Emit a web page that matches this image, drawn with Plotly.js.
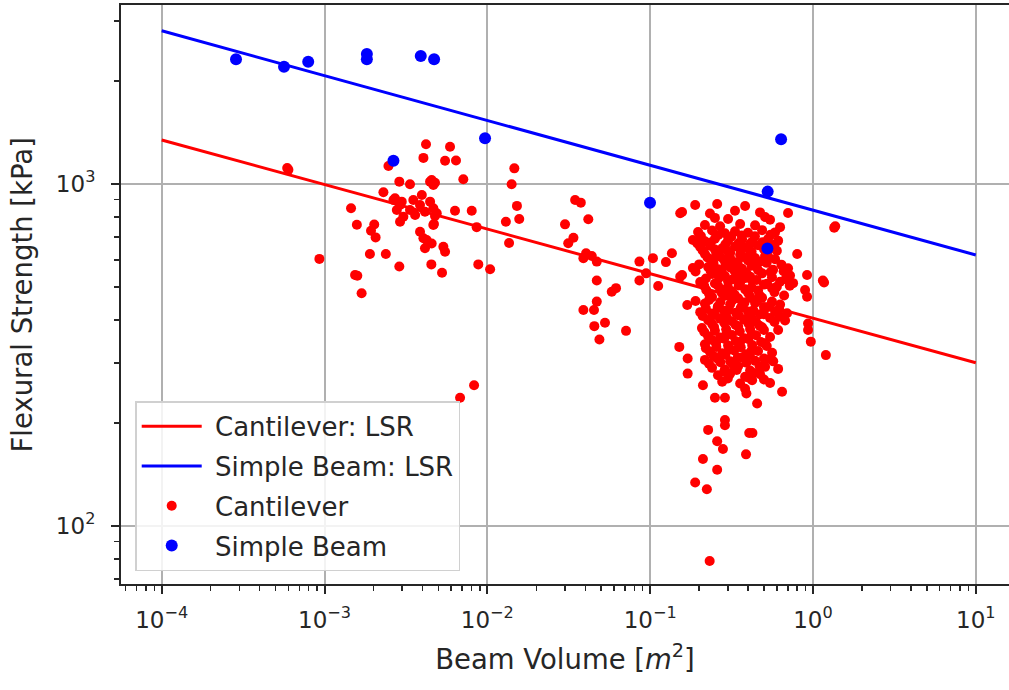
<!DOCTYPE html>
<html>
<head>
<meta charset="utf-8">
<script src="https://cdn.plot.ly/plotly-3.0.1.min.js"></script>
<style>
  html, body { margin: 0; padding: 0; background: #ffffff; }
  #chart { width: 1009px; height: 690px; }
</style>
</head>
<body>
<div id="chart"></div>
<script>
// ---- Cantilever tests: beam volume [m^2] and flexural strength [kPa] ----
// small-beam tests, left part of the range
const cantVolumeSmall = [
  5.9e-4, 6.0e-4, 2.47e-3, 4.20e-3, 5.90e-3, 4.05e-3, 5.50e-3, 6.42e-3, 7.12e-3, 1.465e-2,
  1.41e-2, 1.52e-2, 1.57e-2, 1.30e-2, 1.36e-2, 8.8e-3, 1.04e-2, 2.88e-3, 3.35e-3, 4.45e-3,
  4.77e-3, 4.66e-3, 4.55e-3, 2.30e-3, 1.455e-3, 1.58e-3, 2.02e-3, 1.93e-3, 2.06e-3, 1.90e-3,
  2.38e-3, 2.88e-3, 9.3e-4, 1.54e-3, 1.59e-3, 1.69e-3, 4.53e-3, 5.27e-3, 6.33e-3, 8.02e-3,
  8.6e-3, 6.80e-3, 8.29e-3
];
const cantStrengthSmall = [
  1114, 1100, 1129, 1307, 1285, 1192, 1170, 1172, 1032, 1111,
  998, 863, 790, 776, 672, 582, 563, 1016, 998, 1016,
  1009, 993, 1027, 946, 849, 760, 761, 730, 698, 624,
  624, 574, 604, 542, 539, 479, 582, 550, 835, 835,
  748, 237, 258
];
// grouped tests around 3e-3 .. 5e-3 m^2
const cantVolumeGroup = [
  2.71e-3, 2.91e-3, 2.78e-3, 3.51e-3, 3.96e-3, 3.86e-3, 4.45e-3, 4.66e-3, 4.14e-3, 3.05e-3,
  2.91e-3, 3.60e-3, 4.66e-3, 3.86e-3, 4.24e-3, 4.55e-3, 4.14e-3, 5.37e-3, 5.50e-3, 4.89e-3,
  3.35e-3, 2.98e-3, 4.05e-3, 4.77e-3, 4.70e-3, 2.65e-3
];
const cantStrengthGroup = [
  908, 868, 839, 898, 929, 868, 888, 849, 830, 802,
  776, 812, 759, 725, 686, 670, 649, 655, 634, 821,
  839, 888, 694, 806, 764, 898
];
// medium beams, 3e-2 .. 0.17 m^2
const cantVolumeMedium = [
  3.46e-2, 3.75e-2, 3.00e-2, 4.17e-2, 3.38e-2, 3.14e-2, 4.04e-2, 4.38e-2, 3.89e-2, 4.70e-2,
  4.70e-2, 5.81e-2, 6.17e-2, 4.70e-2, 4.52e-2, 3.89e-2, 4.54e-2, 5.28e-2, 4.88e-2, 7.11e-2,
  8.59e-2, 0.104, 9.44e-2, 8.59e-2, 0.112, 0.125, 0.136, 0.153, 0.153, 0.151,
  0.170, 0.170
];
const cantStrengthMedium = [
  898, 882, 762, 789, 696, 671, 627, 616, 607, 593,
  522, 484, 496, 453, 428, 428, 384, 393, 351, 372,
  593, 607, 548, 522, 503, 591, 627, 821, 536, 334,
  309, 279
];
// weak large beams (low tail)
const cantVolumeWeak = [
  0.211, 0.250, 0.288, 0.383, 0.390, 0.454, 0.646, 0.288, 0.227, 0.288,
  0.406, 0.425, 0.258, 0.280, 0.388, 0.211, 0.258, 0.189, 0.223, 0.232
];
const cantStrengthWeak = [
  258, 237, 237, 252, 244, 228, 247, 204, 191, 197,
  187, 187, 177, 168, 162, 157, 146, 134, 128, 79
];
// largest beams, around 1 m^2
const cantVolumeLarge = [
  0.933, 0.933, 0.970, 1.20, 1.15, 1.17, 1.35, 1.37, 0.80, 0.894,
  0.920, 0.920, 0.703
];
const cantStrengthLarge = [
  391, 374, 346, 316, 522, 515, 745, 752, 624, 490,
  468, 542, 823
];
// main block of large-beam tests, 0.15 .. 0.75 m^2
const cantVolumeBulk = [
  0.189, 0.258, 0.383,
  0.157, 0.233, 0.332, 0.473,
  0.250, 0.301, 0.508, 0.545,
  0.217, 0.269, 0.357, 0.441, 0.628,
  0.197, 0.240, 0.288, 0.332, 0.399, 0.487, 0.585,
  0.183, 0.217, 0.250, 0.301, 0.367, 0.423, 0.530, 0.611,
  0.203, 0.233, 0.277, 0.332, 0.383, 0.460, 0.545,
  0.217, 0.254, 0.310, 0.357, 0.411, 0.508,
  0.240, 0.284, 0.332, 0.399, 0.473, 0.585,
  0.183, 0.227, 0.261, 0.310, 0.367, 0.447, 0.569, 0.703,
  0.157, 0.240, 0.288, 0.347, 0.411, 0.487, 0.723,
  0.203, 0.250, 0.301, 0.357, 0.423, 0.523, 0.628, 0.755,
  0.221, 0.269, 0.318, 0.383, 0.460, 0.561,
  0.240, 0.288, 0.347, 0.411, 0.487, 0.665,
  0.169, 0.217, 0.261, 0.310, 0.367, 0.441, 0.530, 0.628,
  0.203, 0.240, 0.284, 0.337, 0.399, 0.473, 0.585, 0.693,
  0.227, 0.269, 0.318, 0.377, 0.447, 0.545, 0.674,
  0.208, 0.247, 0.293, 0.347, 0.411, 0.487, 0.611,
  0.227, 0.269, 0.318, 0.377, 0.447, 0.545,
  0.217, 0.254, 0.301, 0.357, 0.423, 0.508,
  0.233, 0.277, 0.328, 0.388, 0.460, 0.561,
  0.217, 0.258, 0.310, 0.367, 0.441, 0.545,
  0.240, 0.288, 0.347, 0.411, 0.508, 0.611,
  0.261, 0.310, 0.383, 0.473,
  0.277, 0.357, 0.423, 0.545
];
const cantStrengthBulk = [
  868, 874, 862,
  828, 820, 835, 826,
  796, 790, 801, 786,
  759, 752, 764, 757, 748,
  724, 731, 718, 727, 720, 733, 722,
  686, 680, 692, 684, 689, 678, 690, 683,
  654, 660, 649, 657, 651, 662, 648,
  624, 618, 629, 621, 626, 616,
  596, 601, 590, 598, 593, 603,
  568, 572, 563, 570, 565, 574, 561, 567,
  542, 546, 538, 544, 536, 548, 540,
  517, 512, 520, 514, 522, 511, 518, 513,
  490, 494, 486, 492, 488, 496,
  467, 471, 463, 469, 465, 472,
  443, 447, 439, 445, 441, 449, 437, 444,
  422, 418, 426, 420, 424, 416, 423, 419,
  400, 404, 397, 402, 395, 406, 399,
  379, 382, 376, 384, 377, 381, 374,
  359, 356, 362, 354, 361, 357,
  340, 343, 337, 345, 338, 342,
  323, 320, 326, 318, 325, 321,
  306, 309, 303, 311, 304, 308,
  290, 287, 293, 285, 292, 288,
  276, 279, 273, 278,
  264, 261, 267, 262
];
// further tests filling the same block
const cantVolumeCore = [
  0.205, 0.262, 0.315, 0.365, 0.440, 0.550,
  0.195, 0.236, 0.290, 0.350, 0.410, 0.490, 0.580,
  0.210, 0.250, 0.300, 0.360, 0.420, 0.500, 0.600,
  0.225, 0.270, 0.310, 0.370, 0.440, 0.530,
  0.200, 0.245, 0.290, 0.345, 0.420, 0.520, 0.640,
  0.190, 0.235, 0.275, 0.330, 0.390, 0.460, 0.550, 0.660,
  0.220, 0.265, 0.320, 0.385, 0.450, 0.560, 0.680,
  0.215, 0.260, 0.300, 0.350, 0.420, 0.500, 0.600, 0.720,
  0.230, 0.275, 0.330, 0.400, 0.470, 0.580,
  0.190, 0.230, 0.270, 0.320, 0.380, 0.460, 0.560,
  0.220, 0.260, 0.305, 0.360, 0.430, 0.500, 0.620,
  0.210, 0.250, 0.295, 0.350, 0.420, 0.500, 0.620,
  0.240, 0.285, 0.335, 0.400, 0.470, 0.580,
  0.215, 0.250, 0.295, 0.355, 0.420, 0.500,
  0.240, 0.285, 0.335, 0.400, 0.480,
  0.220, 0.255, 0.305, 0.360, 0.420, 0.520,
  0.245, 0.290, 0.345, 0.410, 0.500,
  0.230, 0.270, 0.325, 0.390, 0.470, 0.570,
  0.285, 0.340, 0.430,
  0.300, 0.400, 0.500
];
const cantStrengthCore = [
  705, 709, 701, 707, 703, 711,
  670, 674, 666, 672, 668, 676, 664,
  639, 643, 636, 641, 634, 645, 638,
  610, 613, 606, 612, 608, 615,
  582, 586, 579, 584, 577, 588, 581,
  555, 558, 552, 557, 550, 560, 553, 556,
  529, 532, 526, 531, 524, 534, 527,
  503, 506, 500, 505, 498, 508, 501, 504,
  478, 481, 475, 480, 473, 483,
  455, 458, 452, 457, 450, 460, 453,
  432, 435, 429, 434, 427, 437, 430,
  411, 414, 408, 413, 406, 416, 409,
  390, 393, 387, 392, 385, 395,
  369, 372, 366, 371, 364, 374,
  350, 353, 347, 352, 345,
  331, 334, 328, 333, 326, 336,
  314, 317, 311, 316, 309,
  298, 301, 295, 300, 293, 303,
  283, 286, 280,
  270, 272, 268
];

// ---- Simple beam tests ----
const beamVolume   = [2.86e-4, 5.64e-4, 7.94e-4, 1.82e-3, 1.82e-3, 3.90e-3, 4.71e-3, 9.68e-3, 2.65e-3, 0.637, 0.527, 0.0998, 0.525];
const beamStrength = [2315, 2203, 2279, 2399, 2315, 2367, 2315, 1360, 1170, 1351, 950, 882, 648];

// ---- Least-squares fits (end points of the fitted power laws) ----
const lsrVolume       = [1e-4, 1e1];
const cantLsrStrength = [1345, 300];
const beamLsrStrength = [2805, 620];

// ---- Tick labels ----
const volumeTicks    = [1e-4, 1e-3, 1e-2, 1e-1, 1e0, 1e1];
const volumeTickText = ['10<sup>\u22124</sup>', '10<sup>\u22123</sup>', '10<sup>\u22122</sup>', '10<sup>\u22121</sup>', '10<sup>0</sup>', '10<sup>1</sup>'];
const strengthTicks    = [1e2, 1e3];
const strengthTickText = ['10<sup>2</sup>', '10<sup>3</sup>'];

// minor ticks at 2..9 within every decade
function minorTicks(fromExp, toExp) {
  const out = [];
  for (let e = fromExp; e <= toExp; e++) {
    for (let k = 2; k <= 9; k++) out.push(k * Math.pow(10, e));
  }
  return out;
}

const cantVolume = [].concat(cantVolumeSmall, cantVolumeGroup, cantVolumeMedium, cantVolumeWeak, cantVolumeLarge, cantVolumeBulk, cantVolumeCore);
const cantStrength = [].concat(cantStrengthSmall, cantStrengthGroup, cantStrengthMedium, cantStrengthWeak, cantStrengthLarge, cantStrengthBulk, cantStrengthCore);

const FONT = 'DejaVu Sans, Liberation Sans, sans-serif';
const INK = '#262626';

const traces = [
  { x: lsrVolume, y: cantLsrStrength, type: 'scatter', mode: 'lines', name: '\u00a0Cantilever: LSR',
    legendgroup: 'a', line: { color: '#ff0000', width: 3 }, hoverinfo: 'skip' },
  { x: lsrVolume, y: beamLsrStrength, type: 'scatter', mode: 'lines', name: '\u00a0Simple Beam: LSR',
    legendgroup: 'b', line: { color: '#0000ff', width: 3 }, hoverinfo: 'skip' },
  { x: cantVolume, y: cantStrength, type: 'scatter', mode: 'markers', name: '\u00a0Cantilever',
    legendgroup: 'c', marker: { color: '#ff0000', size: 10, line: { width: 0 } } },
  { x: beamVolume, y: beamStrength, type: 'scatter', mode: 'markers', name: '\u00a0Simple Beam',
    legendgroup: 'd', marker: { color: '#0000ff', size: 12, line: { width: 0 } } }
];

const axisCommon = {
  type: 'log',
  showline: true,
  linecolor: INK,
  linewidth: 2,
  ticks: 'outside',
  ticklen: 8,
  tickwidth: 2,
  tickcolor: INK,
  showgrid: true,
  gridcolor: '#b0b0b0',
  gridwidth: 2,
  zeroline: false,
  tickmode: 'array',
  tickfont: { family: FONT, size: 23, color: INK }
};

const layout = {
  width: 1009,
  height: 690,
  margin: { l: 121, r: 0, t: 5, b: 106 },
  paper_bgcolor: '#ffffff',
  plot_bgcolor: '#ffffff',
  showlegend: true,
  xaxis: Object.assign({}, axisCommon, {
    range: [-4.25, 1.204],
    mirror: true,
    tickvals: volumeTicks,
    ticktext: volumeTickText,
    ticklabelstandoff: 6,
    minor: { tickmode: 'array', tickvals: minorTicks(-5, 1), ticks: 'outside', ticklen: 5, tickwidth: 1.5, tickcolor: INK, showgrid: false },
    title: { text: 'Beam Volume [<i>m</i><sup>2</sup>]', font: { family: FONT, size: 27.5, color: INK }, standoff: 18 }
  }),
  yaxis: Object.assign({}, axisCommon, {
    range: [1.8304, 3.5234],
    mirror: false,
    tickvals: strengthTicks,
    ticktext: strengthTickText,
    ticklabelstandoff: 11,
    minor: { tickmode: 'array', tickvals: minorTicks(1, 3), ticks: 'outside', ticklen: 5, tickwidth: 1.5, tickcolor: INK, showgrid: false }
  }),
  // vertical axis caption, placed just inside the left page edge
  annotations: [{
    text: 'Flexural Strength [kPa]',
    xref: 'paper', yref: 'paper',
    x: -0.1115, y: 0.5,
    xanchor: 'center', yanchor: 'middle',
    textangle: -90,
    showarrow: false,
    font: { family: FONT, size: 27.5, color: INK }
  }],
  legend: {
    x: 0.016, y: 0.022, xanchor: 'left', yanchor: 'bottom',
    traceorder: 'grouped',
    tracegroupgap: 3,
    bgcolor: 'rgba(255,255,255,0.85)',
    bordercolor: '#d0d0d0',
    borderwidth: 1.5,
    itemwidth: 60,
    font: { family: FONT, size: 26, color: INK }
  }
};

Plotly.newPlot('chart', traces, layout, { staticPlot: true, displayModeBar: false });
</script>
</body>
</html>
